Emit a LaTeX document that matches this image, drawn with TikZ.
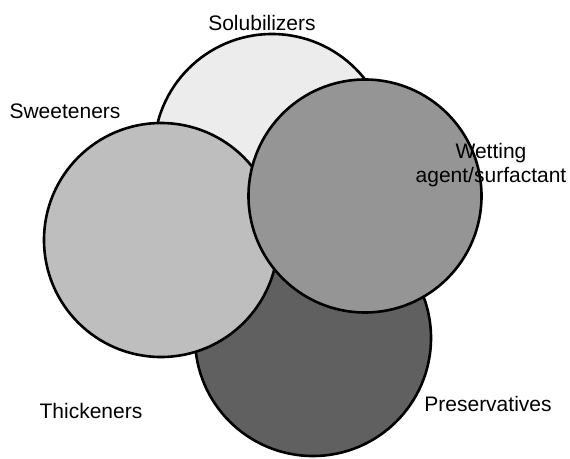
\documentclass[tikz,border=0pt]{standalone}
\usepackage{fontspec}
\setmainfont{Liberation Sans}
\begin{document}
\begin{tikzpicture}[x=1pt,y=-1pt,
  setc/.style={circle,draw=black,line width=2.6pt,inner sep=0pt,minimum size=#1},
  lbl/.style={font=\fontsize{21}{24}\selectfont,inner sep=0pt,align=center}]
\useasboundingbox (0,0) rectangle (570,458);
\definecolor{csol}{HTML}{ECECEC}
\definecolor{cswe}{HTML}{BEBEBE}
\definecolor{cwet}{HTML}{959595}
\definecolor{cpre}{HTML}{606060}
\node[setc=236pt,fill=csol] (sol) at (272,152) {};
\node[setc=236pt,fill=cpre] (pre) at (313,338) {};
\node[setc=234pt,fill=cswe] (swe) at (161,240) {};
\node[setc=233pt,fill=cwet] (wet) at (365,196) {};
\node[lbl] (tsol) at (262,23) {Solubilizers};
\node[lbl] (tswe) at (65,111) {Sweeteners};
\node[lbl] (twet) at (491,165) {Wetting\\agent/surfactant};
\node[lbl] (tthi) at (91,411) {Thickeners};
\node[lbl] (tpre) at (488,404) {Preservatives};
\end{tikzpicture}
\end{document}
